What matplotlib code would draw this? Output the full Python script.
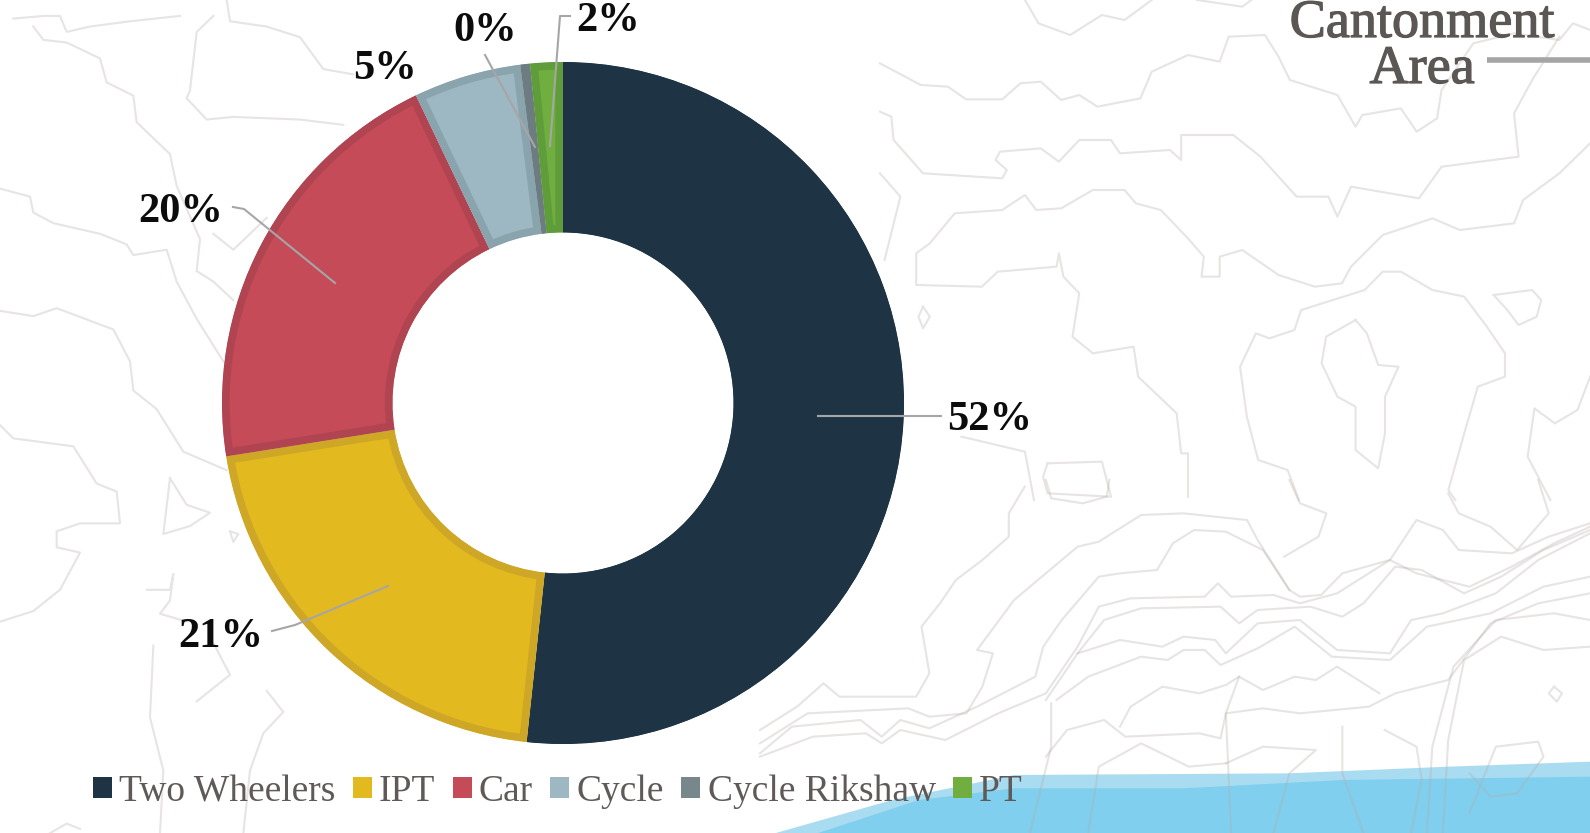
"""Mode share donut chart, Cantonment Area."""

import matplotlib
matplotlib.use("Agg")
import matplotlib.patheffects as pe
import matplotlib.pyplot as plt
from matplotlib.patches import Patch, Polygon

plt.rcParams["font.family"] = "Liberation Serif"

W, H = 1590, 833
DPI = 100

CATEGORIES = ["Two Wheelers", "IPT", "Car", "Cycle", "Cycle Rikshaw", "PT"]
SHARES = [51.7, 20.8, 20.4, 5.1, 0.46, 1.54]

COLORS = ["#1e3445", "#e2b91f", "#c54b58", "#9db8c3", "#78878b", "#6fae3f"]
EDGES = ["#1e3445", "#cfa726", "#b04451", "#8aa4ae", "#6d7c80", "#5f9c3a"]
TEXT_GREY = "#5f5a58"

# donut position in pixels
CX, CY, R = 563, 403, 341

# label centre and leader path (pixels), same order as CATEGORIES
LABEL_POS = [(990, 420), (221, 637), (181, 212), (385, 69), (485, 31), (608, 21)]
LEADERS = [
    [(818, 416), (941, 416)],
    [(388, 586), (295, 625), (272, 631)],
    [(335, 283), (244, 209), (233, 207)],
    [],
    [(485, 55), (535, 147)],
    [(570, 16), (560, 16), (550, 146)],
]

# faint contour map behind the chart, traced in three crops of the picture
# top right part: origin (880, 0), crop px per px 2.208 across, 3 down
CONTOURS_TR = [
    [(0, 190), (90, 255), (150, 260), (190, 298), (270, 298), (310, 250), (355, 245), (400, 300), (440, 285), (480, 320), (575, 295), (600, 215), (680, 165), (750, 185), (770, 110), (850, 105), (880, 170), (905, 240), (1010, 285), (1050, 380), (1065, 345), (1150, 325), (1185, 395), (1230, 355), (1240, 270), (1310, 130), (1400, 100), (1500, 120), (1530, 70), (1568, 90)],
    [(0, 335), (25, 350), (30, 420), (95, 520), (270, 535), (280, 510), (255, 480), (265, 455), (355, 445), (395, 485), (440, 420), (510, 420), (530, 460), (640, 450), (665, 480), (665, 405), (780, 405), (840, 470), (920, 590), (990, 590), (1010, 650), (1040, 560), (1190, 595), (1240, 500), (1410, 470), (1400, 340), (1440, 240), (1500, 110)],
    [(1568, 430), (1500, 520), (1420, 600), (1400, 670), (1280, 690), (1220, 655), (1110, 705), (1040, 800), (1020, 850), (960, 860), (880, 825), (800, 750), (750, 770), (750, 830), (710, 830), (715, 770), (680, 715), (620, 630), (565, 610), (540, 570), (470, 570), (400, 625), (345, 630), (320, 585), (270, 630), (165, 640), (110, 730), (80, 760), (80, 855), (225, 860), (260, 815), (390, 800), (395, 760), (405, 830), (440, 880), (425, 1010), (470, 1060), (560, 1040), (570, 1130), (655, 1240), (665, 1360), (680, 1360), (680, 1490)],
    [(1270, 1500), (1255, 1470), (1290, 1300), (1320, 1160), (1380, 1130), (1380, 1060), (1340, 980), (1290, 890), (1220, 870), (1150, 815), (1110, 815), (1070, 870), (930, 930), (915, 990), (860, 1015), (830, 1000), (795, 1100), (810, 1250), (835, 1380), (900, 1410), (925, 1500)],
    [(1050, 960), (985, 1010), (975, 1090), (1010, 1190), (1050, 1220), (1050, 1350), (1100, 1405), (1115, 1300), (1115, 1190), (1145, 1100), (1100, 1095), (1075, 1000), (1050, 960)],
    [(1355, 885), (1440, 870), (1460, 900), (1450, 950), (1410, 975), (1385, 930), (1355, 885)],
    [(95, 920), (110, 950), (95, 985), (85, 950), (95, 920)],
    [(370, 1390), (490, 1385), (510, 1490), (370, 1480), (360, 1430), (370, 1390)],
    [(180, 1310), (320, 1355), (340, 1500)],
    [(1568, 1130), (1540, 1230), (1490, 1270), (1445, 1225), (1430, 1370), (1480, 1500)],
    [(320, 0), (350, 70), (420, 105), (490, 45), (540, 60), (600, 0)],
    [(700, 0), (800, 20), (820, 0)],
    [(0, 520), (45, 590), (10, 780)],
]
# bottom right part: origin (760, 480), crop px per px 1.889 across, 3 down
CONTOURS_BR = [
    [(500, 20), (470, 100), (470, 170), (420, 240), (370, 300), (340, 370), (305, 440), (320, 580), (295, 650), (150, 650), (120, 610), (70, 680), (0, 750)],
    [(540, 0), (550, 55), (610, 70), (655, 50), (660, 0)],
    [(0, 790), (90, 700), (280, 685), (320, 710), (390, 700), (420, 620), (440, 520), (410, 510), (480, 360), (540, 280), (600, 200), (640, 185), (720, 105), (800, 100), (920, 120), (940, 180), (1000, 330), (1020, 350), (1060, 345), (1100, 280), (1190, 240), (1240, 120), (1290, 150), (1320, 210), (1420, 220), (1490, 170), (1568, 130)],
    [(0, 820), (60, 740), (190, 720), (230, 770), (265, 720), (320, 745), (410, 680), (520, 590), (535, 500), (570, 420), (640, 290), (680, 280), (750, 270), (780, 190), (820, 150), (880, 155), (950, 210), (1000, 330)],
    [(0, 830), (100, 770), (200, 760), (230, 790), (265, 750), (350, 780), (450, 700), (540, 640), (600, 500), (640, 380), (700, 355), (840, 350), (865, 310), (890, 350), (970, 345), (1020, 370), (1090, 340), (1190, 240), (1240, 280), (1340, 320), (1420, 260), (1500, 190), (1568, 140)],
    [(600, 520), (650, 420), (720, 385), (870, 380), (905, 430), (940, 390), (1040, 380), (1100, 410), (1140, 370), (1200, 260), (1250, 270), (1330, 340), (1400, 290), (1480, 210), (1568, 150)],
    [(540, 660), (600, 520), (680, 480), (760, 500), (800, 470), (860, 480), (880, 520), (940, 430), (1020, 420), (1090, 510), (1190, 520), (1230, 420), (1290, 400), (1390, 340), (1470, 240), (1568, 160)],
    [(560, 660), (620, 590), (720, 530), (770, 540), (800, 510), (840, 510), (870, 555), (940, 505), (1010, 440), (1080, 530), (1190, 540), (1260, 440), (1380, 400), (1480, 320), (1568, 290)],
    [(680, 740), (700, 680), (760, 620), (830, 640), (880, 615), (905, 590), (950, 630), (1010, 590), (1050, 600), (1090, 560), (1170, 640)],
    [(540, 830), (580, 750), (650, 720), (690, 770), (830, 760), (870, 775), (880, 700), (950, 685), (1020, 700), (1150, 680), (1200, 640), (1300, 600), (1380, 430), (1470, 370), (1568, 340)],
    [(1260, 1059), (1270, 800), (1310, 560), (1390, 420), (1500, 400), (1568, 420)],
    [(1290, 1059), (1300, 780), (1330, 540), (1400, 470), (1480, 510), (1568, 500)],
    [(1180, 750), (1240, 800), (1250, 900), (1230, 1059)],
    [(880, 850), (950, 800), (1050, 810), (1000, 880), (970, 1059)],
    [(620, 1059), (640, 860), (720, 790), (810, 860), (880, 850)],
    [(1340, 1000), (1390, 800), (1470, 785), (1480, 830), (1430, 940), (1380, 950), (1340, 880)],
    [(1500, 620), (1515, 640), (1505, 665), (1490, 640), (1500, 620)],
    [(1000, 0), (1020, 70), (1070, 100), (1055, 170), (990, 230)],
    [(1300, 40), (1320, 100), (1380, 140), (1430, 210), (1490, 100), (1470, 0)],
    [(550, 670), (550, 800), (510, 1059)],
    [(905, 590), (880, 700), (890, 1059)],
    [(1100, 740), (1100, 880), (1140, 1059)],
]
# left part: origin (0, 0), crop px per px 3 across, 1.882 down
CONTOURS_L = [
    [(40, 35), (130, 30), (180, 30), (200, 60), (270, 50), (390, 40), (540, 30)],
    [(100, 50), (130, 75), (200, 80), (300, 110), (320, 155), (400, 180), (410, 230), (510, 290), (530, 350), (600, 450), (590, 510), (640, 530), (700, 565)],
    [(640, 30), (590, 60), (570, 170), (560, 185), (620, 225), (700, 220), (900, 225), (1030, 235)],
    [(0, 355), (90, 370), (100, 400), (160, 420), (300, 440), (380, 460), (400, 480), (500, 470), (530, 530), (590, 600), (670, 680)],
    [(0, 585), (100, 595), (170, 580), (340, 620), (390, 680), (400, 735), (470, 770), (550, 850), (680, 885)],
    [(0, 800), (40, 825), (220, 840), (290, 910), (350, 925), (360, 985), (240, 985), (170, 1000), (170, 1030), (240, 1040), (180, 1110), (100, 1150), (0, 1170)],
    [(510, 900), (560, 950), (630, 965), (570, 990), (490, 1005), (510, 900)],
    [(440, 1110), (510, 1110), (520, 1080), (510, 1130), (480, 1155), (560, 1170)],
    [(460, 1215), (450, 1350), (490, 1450), (480, 1568)],
    [(590, 1320), (690, 1270), (640, 1210)],
    [(800, 1300), (850, 1340), (790, 1380), (750, 1450), (730, 1568)],
    [(680, 0), (690, 40), (800, 50), (900, 70), (970, 130), (1060, 140)],
    [(690, 1000), (715, 1005), (700, 1020), (690, 1000)],
    [(150, 1568), (200, 1550), (240, 1560)],
    [(640, 440), (700, 470), (800, 410)],
]

# light blue band in the bottom right corner, same crop as CONTOURS_BR
BAND_OUTER = [(30, 1059), (250, 960), (480, 885), (1000, 880), (1300, 860), (1568, 845), (1568, 1059)]
BAND_INNER = [(110, 1059), (300, 960), (480, 925), (800, 925), (1100, 900), (1568, 890), (1568, 1059)]


def from_crop(points, x0, y0, fx, fy):
    return [(x0 + x / fx, y0 + y / fy) for x, y in points]


def main():
    fig = plt.figure(figsize=(W / DPI, H / DPI), dpi=DPI)
    fig.patch.set_facecolor("white")

    # full figure axes in pixel coordinates
    bg = fig.add_axes([0, 0, 1, 1])
    bg.set_xlim(0, W)
    bg.set_ylim(H, 0)
    bg.axis("off")

    bg.add_patch(Polygon(from_crop(BAND_OUTER, 760, 480, 1.889, 3.0), closed=True,
                         fc="#a9dcf1", ec="none", zorder=1))
    bg.add_patch(Polygon(from_crop(BAND_INNER, 760, 480, 1.889, 3.0), closed=True,
                         fc="#80cfee", ec="none", zorder=1))

    crops = [
        (CONTOURS_TR, 880, 0, 2.208, 3.0),
        (CONTOURS_BR, 760, 480, 1.889, 3.0),
        (CONTOURS_L, 0, 0, 3.0, 1.882),
    ]
    for lines, x0, y0, fx, fy in crops:
        for line in lines:
            xs, ys = zip(*from_crop(line, x0, y0, fx, fy))
            bg.plot(xs, ys, color="#b5aca8", alpha=0.32, lw=1.5, zorder=2)

    # donut
    ax = fig.add_axes([(CX - R) / W, 1 - (CY + R) / H, 2 * R / W, 2 * R / H])
    wedges, _ = ax.pie(
        SHARES, colors=COLORS, startangle=90, counterclock=False, radius=1.0,
        wedgeprops=dict(width=0.5),
    )
    ax.set_xlim(-1, 1)
    ax.set_ylim(-1, 1)
    ax.patch.set_alpha(0)
    for w, edge in zip(wedges, EDGES):
        w.set_edgecolor(edge)
        w.set_linewidth(11)
        w.set_clip_on(True)
        w.set_clip_path(w)  # keeps only the inner half of the thick edge

    # leaders and labels on top of the donut
    top = fig.add_axes([0, 0, 1, 1])
    top.set_xlim(0, W)
    top.set_ylim(H, 0)
    top.axis("off")
    for share, pos, path in zip(SHARES, LABEL_POS, LEADERS):
        if path:
            xs, ys = zip(*path)
            top.plot(xs, ys, color="#a6a6a6", lw=1.5)
        top.text(pos[0], pos[1], f"{share:.0f}%", ha="center", va="center",
                 fontsize=30.5, fontweight="bold", color="#0c0c0c")

    # place name, cut off by the top edge
    heavier = [pe.withStroke(linewidth=0.9, foreground="#5a5755")]
    top.text(1422, 37, "Cantonment", ha="center", va="baseline", fontsize=39,
             color="#5a5755", path_effects=heavier)
    top.text(1422, 83, "Area", ha="center", va="baseline", fontsize=39,
             color="#5a5755", path_effects=heavier)
    top.plot([1487, 1590], [60, 60], color="#a5a5a5", lw=4, solid_capstyle="butt")

    handles = [Patch(fc=c, ec="none") for c in COLORS]
    fig.legend(
        handles, CATEGORIES, loc="lower left", bbox_to_anchor=(93 / W, 1 - 809 / H),
        ncol=6, frameon=False, fontsize=27, labelcolor=TEXT_GREY,
        handlelength=0.5, handleheight=0.5, handletextpad=0.2, columnspacing=0.46,
        borderpad=0, borderaxespad=0,
    )

    fig.savefig("out.png", dpi=DPI, facecolor="white")
    plt.close(fig)


if __name__ == "__main__":
    main()
